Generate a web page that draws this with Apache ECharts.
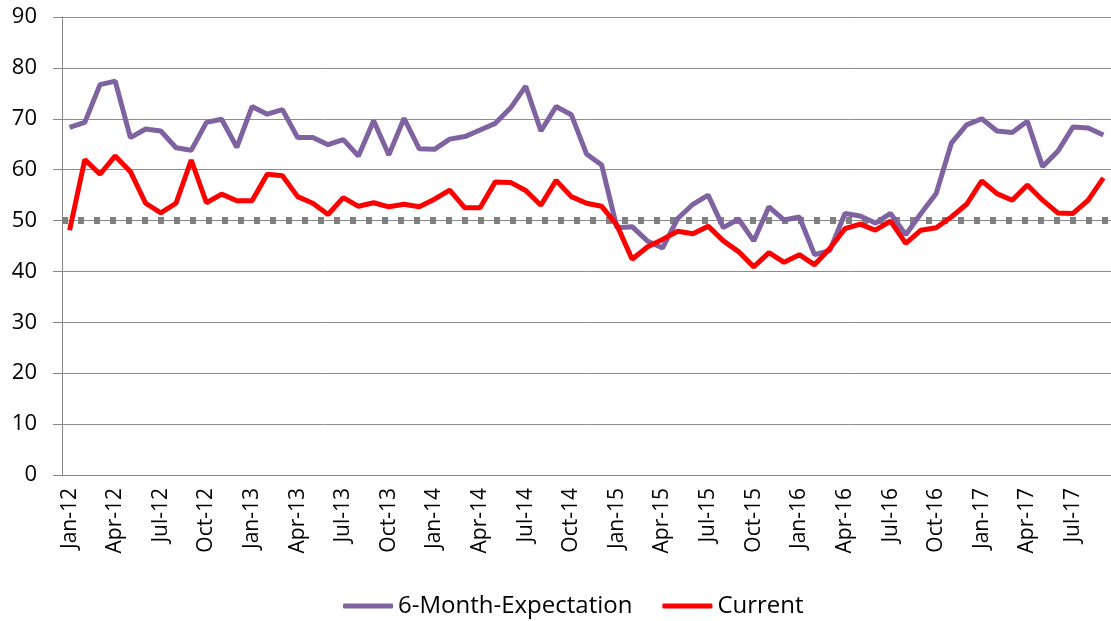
<!DOCTYPE html>
<html>
<head>
<meta charset="utf-8">
<script src="https://cdn.jsdelivr.net/npm/echarts@6/dist/echarts.min.js"></script>
<style>
  html, body { margin: 0; padding: 0; background: #fff; }
  #chart { width: 1111px; height: 621px; }
</style>
</head>
<body>
<div id="chart"></div>
<script>
// months Jan-12 .. Sep-17
const months = [
  'Jan-12','Feb-12','Mar-12','Apr-12','May-12','Jun-12','Jul-12','Aug-12','Sep-12','Oct-12','Nov-12','Dec-12',
  'Jan-13','Feb-13','Mar-13','Apr-13','May-13','Jun-13','Jul-13','Aug-13','Sep-13','Oct-13','Nov-13','Dec-13',
  'Jan-14','Feb-14','Mar-14','Apr-14','May-14','Jun-14','Jul-14','Aug-14','Sep-14','Oct-14','Nov-14','Dec-14',
  'Jan-15','Feb-15','Mar-15','Apr-15','May-15','Jun-15','Jul-15','Aug-15','Sep-15','Oct-15','Nov-15','Dec-15',
  'Jan-16','Feb-16','Mar-16','Apr-16','May-16','Jun-16','Jul-16','Aug-16','Sep-16','Oct-16','Nov-16','Dec-16',
  'Jan-17','Feb-17','Mar-17','Apr-17','May-17','Jun-17','Jul-17','Aug-17','Sep-17'
];

const expectation = [
  68.3, 69.3, 76.7, 77.4, 66.3, 68.0, 67.6, 64.3, 63.8, 69.3, 69.9, 64.4,
  72.4, 70.9, 71.8, 66.3, 66.3, 64.9, 65.9, 62.7, 69.6, 62.9, 70.1, 64.1,
  64.0, 66.0, 66.5, 67.8, 69.1, 72.1, 76.4, 67.6, 72.4, 70.8, 63.1, 60.9,
  48.6, 48.8, 46.0, 44.6, 50.4, 53.2, 55.0, 48.6, 50.3, 46.0, 52.7, 50.1,
  50.7, 43.3, 44.1, 51.4, 50.9, 49.5, 51.4, 47.2, 51.4, 55.3, 65.2, 68.8,
  70.0, 67.6, 67.3, 69.5, 60.6, 63.6, 68.4, 68.2, 66.8
];

const current = [
  48.1, 62.0, 59.1, 62.7, 59.6, 53.4, 51.5, 53.4, 61.9, 53.5, 55.2, 53.9,
  53.9, 59.1, 58.8, 54.7, 53.4, 51.2, 54.5, 52.8, 53.5, 52.7, 53.2, 52.7,
  54.2, 56.0, 52.5, 52.5, 57.6, 57.5, 55.9, 53.0, 57.9, 54.7, 53.4, 52.8,
  49.1, 42.4, 44.8, 46.3, 47.9, 47.4, 48.9, 46.0, 43.9, 40.9, 43.7, 41.8,
  43.3, 41.3, 44.5, 48.4, 49.3, 48.1, 49.9, 45.5, 48.1, 48.6, 50.7, 53.2,
  57.8, 55.3, 54.0, 57.0, 54.0, 51.5, 51.4, 54.0, 58.4
];

const threshold = 50;

const chart = echarts.init(document.getElementById('chart'));
const font = '"Open Sans", Lato, sans-serif';

chart.setOption({
  animation: false,
  textStyle: { fontFamily: font },
  grid: { left: 62, right: -5, top: 17, bottom: 146 },
  legend: {
    left: 338, top: 589,
    itemWidth: 50, itemHeight: 5, itemGap: 30,
    icon: 'roundRect',
    textStyle: { fontSize: 24, color: '#000', fontFamily: font },
    data: ['6-Month-Expectation', 'Current']
  },
  xAxis: {
    type: 'category',
    data: months,
    boundaryGap: true,
    axisLine: { lineStyle: { color: '#868686', width: 1 } },
    axisTick: { show: false },
    axisLabel: { interval: 2, rotate: 90, margin: 13, fontSize: 21, color: '#000' }
  },
  yAxis: {
    type: 'value', min: 0, max: 90, interval: 10,
    axisLine: { show: true, lineStyle: { color: '#868686', width: 1 } },
    axisTick: { show: true, length: 9, lineStyle: { color: '#868686' } },
    axisLabel: { fontSize: 22, color: '#000', margin: 25 },
    splitLine: { lineStyle: { color: '#8c8c8c', width: 1 } }
  },
  series: [
    {
      name: '6-Month-Expectation',
      type: 'line',
      data: expectation,
      symbol: 'none',
      lineStyle: { width: 5, color: '#7f63a1' },
      itemStyle: { color: '#7f63a1' },
      z: 3
    },
    {
      name: 'Current',
      type: 'line',
      data: current,
      symbol: 'none',
      lineStyle: { width: 5, color: '#ff0000' },
      itemStyle: { color: '#ff0000' },
      z: 4,
      markLine: {
        silent: true,
        symbol: 'none',
        label: { show: false },
        lineStyle: { type: [6, 10], width: 7, color: '#808080', cap: 'butt' },
        data: [{ yAxis: threshold }],
        z: 1
      }
    }
  ]
});
</script>
</body>
</html>
